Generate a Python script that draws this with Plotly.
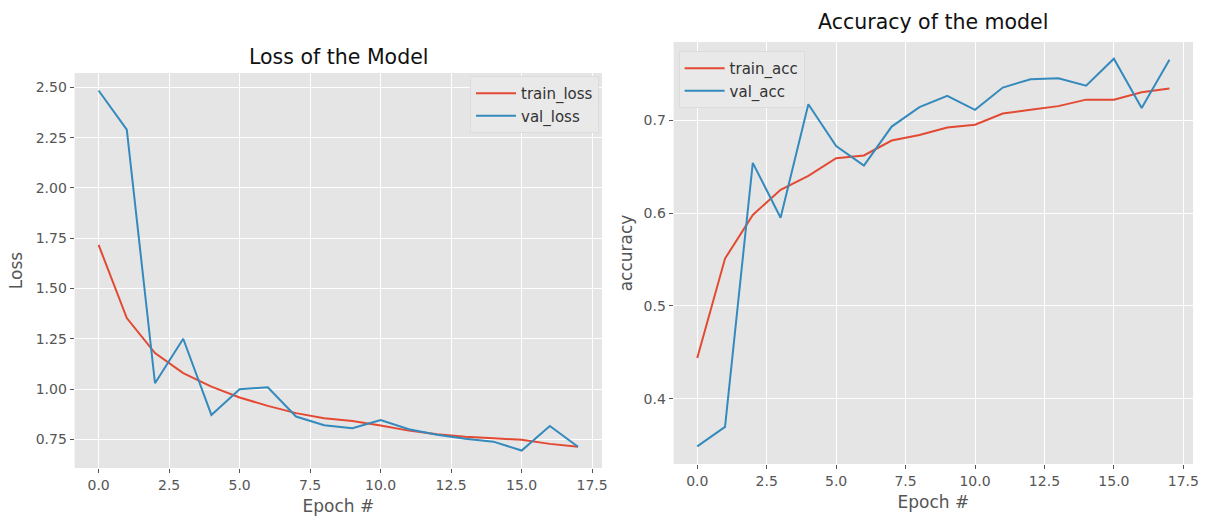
import plotly.graph_objects as go

epochs = list(range(18))

train_loss = [1.717, 1.353, 1.179, 1.079, 1.012, 0.958, 0.916, 0.880, 0.855, 0.841,
              0.818, 0.793, 0.775, 0.763, 0.755, 0.747, 0.727, 0.713]
val_loss = [2.485, 2.290, 1.029, 1.250, 0.871, 0.999, 1.009, 0.863, 0.820, 0.805,
            0.846, 0.800, 0.772, 0.752, 0.738, 0.694, 0.816, 0.713]

train_acc = [0.444, 0.551, 0.598, 0.625, 0.640, 0.659, 0.662, 0.678, 0.684, 0.692,
             0.695, 0.707, 0.711, 0.715, 0.722, 0.722, 0.730, 0.734]
val_acc = [0.349, 0.370, 0.654, 0.595, 0.717, 0.672, 0.651, 0.693, 0.714, 0.726,
           0.711, 0.735, 0.744, 0.745, 0.737, 0.766, 0.713, 0.765]

x_ticks = [0.0, 2.5, 5.0, 7.5, 10.0, 12.5, 15.0, 17.5]
loss_ticks = [0.75, 1.00, 1.25, 1.50, 1.75, 2.00, 2.25, 2.50]
acc_ticks = [0.4, 0.5, 0.6, 0.7]

RED = "#E24A33"
BLUE = "#348ABD"
FONT = "DejaVu Sans"
W, H = 1209, 516

fig = go.Figure()
fig.add_trace(go.Scatter(x=epochs, y=train_loss, mode="lines", name="train_loss",
                         line=dict(color=RED, width=2), xaxis="x", yaxis="y", legend="legend"))
fig.add_trace(go.Scatter(x=epochs, y=val_loss, mode="lines", name="val_loss",
                         line=dict(color=BLUE, width=2), xaxis="x", yaxis="y", legend="legend"))
fig.add_trace(go.Scatter(x=epochs, y=train_acc, mode="lines", name="train_acc",
                         line=dict(color=RED, width=2), xaxis="x2", yaxis="y2", legend="legend2"))
fig.add_trace(go.Scatter(x=epochs, y=val_acc, mode="lines", name="val_acc",
                         line=dict(color=BLUE, width=2), xaxis="x2", yaxis="y2", legend="legend2"))

def px(v):
    return v / W

def py(v):
    return 1 - v / H

axis_common = dict(
    showgrid=True, gridcolor="white", gridwidth=1, zeroline=False,
    ticks="outside", ticklen=4, tickcolor="#555555", tickwidth=1,
    tickfont=dict(family=FONT, size=14, color="#555555"),
    showline=False,
)

L_left, L_right, L_top, L_bot = 75, 605, 73, 468
R_left, R_right, R_top, R_bot = 677, 1199, 42, 464

title_font = dict(family=FONT, size=17, color="#555555")

fig.update_layout(
    width=W, height=H,
    margin=dict(l=0, r=0, t=0, b=0),
    paper_bgcolor="white",
    plot_bgcolor="#E5E5E5",
    font=dict(family=FONT, color="#555555"),
    xaxis=dict(domain=[px(L_left), px(L_right)], anchor="y", range=[-0.85, 17.85],
               tickvals=x_ticks, tickformat=".1f",
               title=dict(text="Epoch #", font=title_font, standoff=8),
               **axis_common),
    yaxis=dict(domain=[py(L_bot), py(L_top)], anchor="x", range=[0.607, 2.572],
               tickvals=loss_ticks, tickformat=".2f",
               title=dict(text="Loss", font=title_font, standoff=8),
               **axis_common),
    xaxis2=dict(domain=[px(R_left), px(R_right)], anchor="y2", range=[-0.85, 17.85],
                tickvals=x_ticks, tickformat=".1f",
                title=dict(text="Epoch #", font=title_font, standoff=8),
                **axis_common),
    yaxis2=dict(domain=[py(R_bot), py(R_top)], anchor="x2", range=[0.330, 0.784],
                tickvals=acc_ticks, tickformat=".1f",
                title=dict(text="accuracy", font=title_font, standoff=6),
                **axis_common),
    legend=dict(x=px(L_right - 3), y=py(L_top + 3), xanchor="right", yanchor="top",
                bgcolor="#E9E9E9", bordercolor="#DCDCDC", borderwidth=1,
                font=dict(family=FONT, size=15, color="#333333"),
                tracegroupgap=0, itemwidth=40),
    legend2=dict(x=px(R_left + 5), y=py(R_top + 9), xanchor="left", yanchor="top",
                 bgcolor="#E9E9E9", bordercolor="#DCDCDC", borderwidth=1,
                 font=dict(family=FONT, size=15, color="#333333"),
                 tracegroupgap=0, itemwidth=40),
    annotations=[
        dict(text="Loss of the Model", x=px((L_left + L_right) / 2), y=py(57),
             xref="paper", yref="paper", showarrow=False, xanchor="center", yanchor="middle",
             font=dict(family=FONT, size=20.5, color="#111111")),
        dict(text="Accuracy of the model", x=px((R_left + R_right) / 2), y=py(22),
             xref="paper", yref="paper", showarrow=False, xanchor="center", yanchor="middle",
             font=dict(family=FONT, size=20.5, color="#111111")),
    ],
)

fig.write_html("out.html",
               config={"displayModeBar": False},
               post_script="document.body.style.margin='0px';document.body.style.overflow='hidden';")
